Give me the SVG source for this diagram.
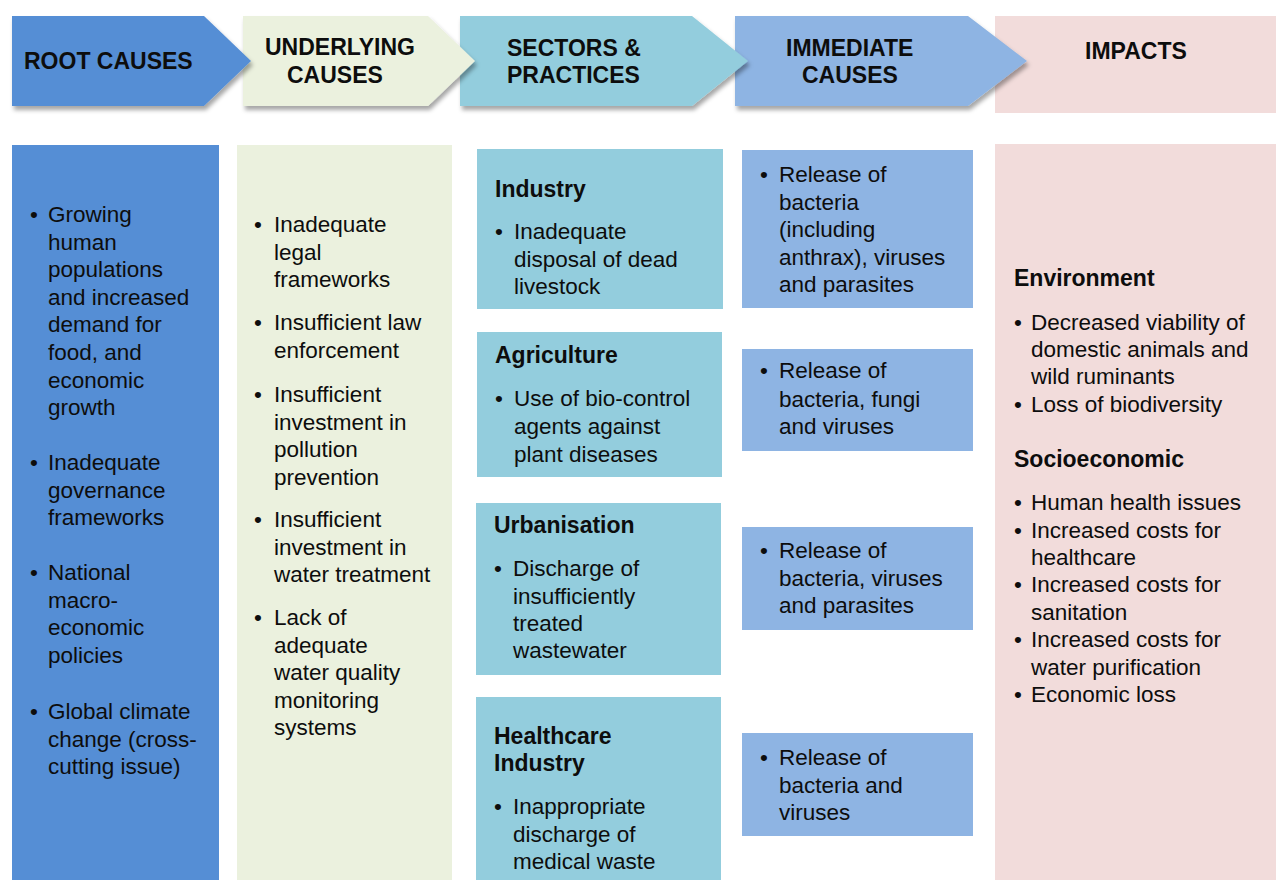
<svg xmlns="http://www.w3.org/2000/svg" width="1276" height="880" viewBox="0 0 1276 880">
<defs>
<filter id="sh" x="-10%" y="-10%" width="130%" height="140%">
<feDropShadow dx="2" dy="4" stdDeviation="2" flood-color="#000" flood-opacity="0.35"/>
</filter>
<style>
text{font-family:"Liberation Sans",Arial,sans-serif;fill:#0d0d0d}
.h{font-size:23px;font-weight:bold}
.t{font-size:22.5px}
.b{font-size:23px;font-weight:bold}
.root{fill:#558ED5}
.und{fill:#EBF1DE}
.sec{fill:#93CDDD}
.imm{fill:#8EB4E3}
.imp{fill:#F2DCDB}
</style>
</defs>
<rect width="1276" height="880" fill="#fff"/>

<!-- header arrows (reverse order so tips overlap next) -->
<g id="hdr-impacts">
<rect class="imp" x="995" y="16" width="281" height="97"/>
<text class="h" x="1085" y="59">IMPACTS</text>
</g>
<g id="hdr-immediate">
<path class="imm" filter="url(#sh)" d="M735,16 H968 L1027,61 L968,106 H735 Z"/>
<text class="h" x="786" y="56">IMMEDIATE</text>
<text class="h" x="802" y="83">CAUSES</text>
</g>
<g id="hdr-sectors">
<path class="sec" filter="url(#sh)" d="M460,16 H692 L748,61 L692,106 H460 Z"/>
<text class="h" x="507" y="56">SECTORS &amp;</text>
<text class="h" x="507" y="83">PRACTICES</text>
</g>
<g id="hdr-underlying">
<path class="und" filter="url(#sh)" d="M243,16 H428 L475,61 L428,106 H243 Z"/>
<text class="h" x="265" y="55">UNDERLYING</text>
<text class="h" x="287" y="83">CAUSES</text>
</g>
<g id="hdr-root">
<path class="root" filter="url(#sh)" d="M12,16 H204 L251,61 L204,106 H12 Z"/>
<text class="h" x="24" y="69">ROOT CAUSES</text>
</g>

<!-- root causes column -->
<g id="col-root">
<rect class="root" x="12" y="145" width="207" height="735"/>
<g class="t">
<text x="30" y="222">•</text>
<text x="48" y="222">Growing</text>
<text x="48" y="249.6">human</text>
<text x="48" y="277.2">populations</text>
<text x="48" y="304.8">and increased</text>
<text x="48" y="332.4">demand for</text>
<text x="48" y="360">food, and</text>
<text x="48" y="387.6">economic</text>
<text x="48" y="415.2">growth</text>
<text x="30" y="470">•</text>
<text x="48" y="470">Inadequate</text>
<text x="48" y="497.6">governance</text>
<text x="48" y="525.2">frameworks</text>
<text x="30" y="580">•</text>
<text x="48" y="580">National</text>
<text x="48" y="607.6">macro-</text>
<text x="48" y="635.2">economic</text>
<text x="48" y="662.8">policies</text>
<text x="30" y="719">•</text>
<text x="48" y="719">Global climate</text>
<text x="48" y="746.6">change (cross-</text>
<text x="48" y="774.2">cutting issue)</text>
</g>
</g>

<!-- underlying causes column -->
<g id="col-underlying">
<rect class="und" x="237" y="145" width="215" height="735"/>
<g class="t">
<text x="254" y="232">•</text>
<text x="274" y="232">Inadequate</text>
<text x="274" y="259.5">legal</text>
<text x="274" y="287">frameworks</text>
<text x="254" y="330">•</text>
<text x="274" y="330">Insufficient law</text>
<text x="274" y="358">enforcement</text>
<text x="254" y="402">•</text>
<text x="274" y="402">Insufficient</text>
<text x="274" y="429.5">investment in</text>
<text x="274" y="457">pollution</text>
<text x="274" y="484.5">prevention</text>
<text x="254" y="527">•</text>
<text x="274" y="527">Insufficient</text>
<text x="274" y="554.5">investment in</text>
<text x="274" y="582">water treatment</text>
<text x="254" y="625">•</text>
<text x="274" y="625">Lack of</text>
<text x="274" y="652.5">adequate</text>
<text x="274" y="680">water quality</text>
<text x="274" y="707.5">monitoring</text>
<text x="274" y="735">systems</text>
</g>
</g>

<!-- sectors & practices -->
<g id="sec-industry">
<rect class="sec" x="477" y="149" width="246" height="160"/>
<text class="b" x="495" y="197">Industry</text>
<g class="t">
<text x="495" y="239">•</text>
<text x="514" y="239">Inadequate</text>
<text x="514" y="266.7">disposal of dead</text>
<text x="514" y="294.3">livestock</text>
</g>
</g>
<g id="sec-agriculture">
<rect class="sec" x="477" y="332" width="245" height="145"/>
<text class="b" x="495" y="363">Agriculture</text>
<g class="t">
<text x="495" y="406">•</text>
<text x="514" y="406">Use of bio-control</text>
<text x="514" y="434">agents against</text>
<text x="514" y="461.7">plant diseases</text>
</g>
</g>
<g id="sec-urbanisation">
<rect class="sec" x="476" y="503" width="245" height="172"/>
<text class="b" x="494" y="533">Urbanisation</text>
<g class="t">
<text x="494" y="576">•</text>
<text x="513" y="576">Discharge of</text>
<text x="513" y="603.5">insufficiently</text>
<text x="513" y="631">treated</text>
<text x="513" y="658">wastewater</text>
</g>
</g>
<g id="sec-healthcare">
<rect class="sec" x="476" y="697" width="245" height="183"/>
<text class="b" x="494" y="744">Healthcare</text>
<text class="b" x="494" y="771">Industry</text>
<g class="t">
<text x="494" y="814">•</text>
<text x="513" y="814">Inappropriate</text>
<text x="513" y="841.7">discharge of</text>
<text x="513" y="869">medical waste</text>
</g>
</g>

<!-- immediate causes -->
<g id="imm-1">
<rect class="imm" x="742" y="150" width="231" height="158"/>
<g class="t">
<text x="760" y="181.7">•</text>
<text x="779" y="181.7">Release of</text>
<text x="779" y="210">bacteria</text>
<text x="779" y="237">(including</text>
<text x="779" y="265">anthrax),  viruses</text>
<text x="779" y="292">and parasites</text>
</g>
</g>
<g id="imm-2">
<rect class="imm" x="742" y="349" width="231" height="102"/>
<g class="t">
<text x="760" y="378">•</text>
<text x="779" y="378">Release of</text>
<text x="779" y="406.7">bacteria, fungi</text>
<text x="779" y="434">and viruses</text>
</g>
</g>
<g id="imm-3">
<rect class="imm" x="742" y="527" width="231" height="103"/>
<g class="t">
<text x="760" y="558">•</text>
<text x="779" y="558">Release of</text>
<text x="779" y="586">bacteria, viruses</text>
<text x="779" y="613">and parasites</text>
</g>
</g>
<g id="imm-4">
<rect class="imm" x="742" y="733" width="231" height="103"/>
<g class="t">
<text x="760" y="765">•</text>
<text x="779" y="765">Release of</text>
<text x="779" y="792.7">bacteria and</text>
<text x="779" y="820">viruses</text>
</g>
</g>

<!-- impacts -->
<g id="col-impacts">
<rect class="imp" x="995" y="144" width="281" height="736"/>
<text class="b" x="1014" y="286">Environment</text>
<g class="t">
<text x="1014" y="329.5">•</text>
<text x="1031" y="329.5">Decreased viability of</text>
<text x="1031" y="357">domestic animals and</text>
<text x="1031" y="384">wild ruminants</text>
<text x="1014" y="411.5">•</text>
<text x="1031" y="411.5">Loss of biodiversity</text>
</g>
<text class="b" x="1014" y="467">Socioeconomic</text>
<g class="t">
<text x="1014" y="510">•</text>
<text x="1031" y="510">Human  health issues</text>
<text x="1014" y="537.5">•</text>
<text x="1031" y="537.5">Increased costs for</text>
<text x="1031" y="565">healthcare</text>
<text x="1014" y="592">•</text>
<text x="1031" y="592">Increased costs for</text>
<text x="1031" y="620">sanitation</text>
<text x="1014" y="647">•</text>
<text x="1031" y="647">Increased costs for</text>
<text x="1031" y="675">water purification</text>
<text x="1014" y="702">•</text>
<text x="1031" y="702">Economic loss</text>
</g>
</g>
</svg>
